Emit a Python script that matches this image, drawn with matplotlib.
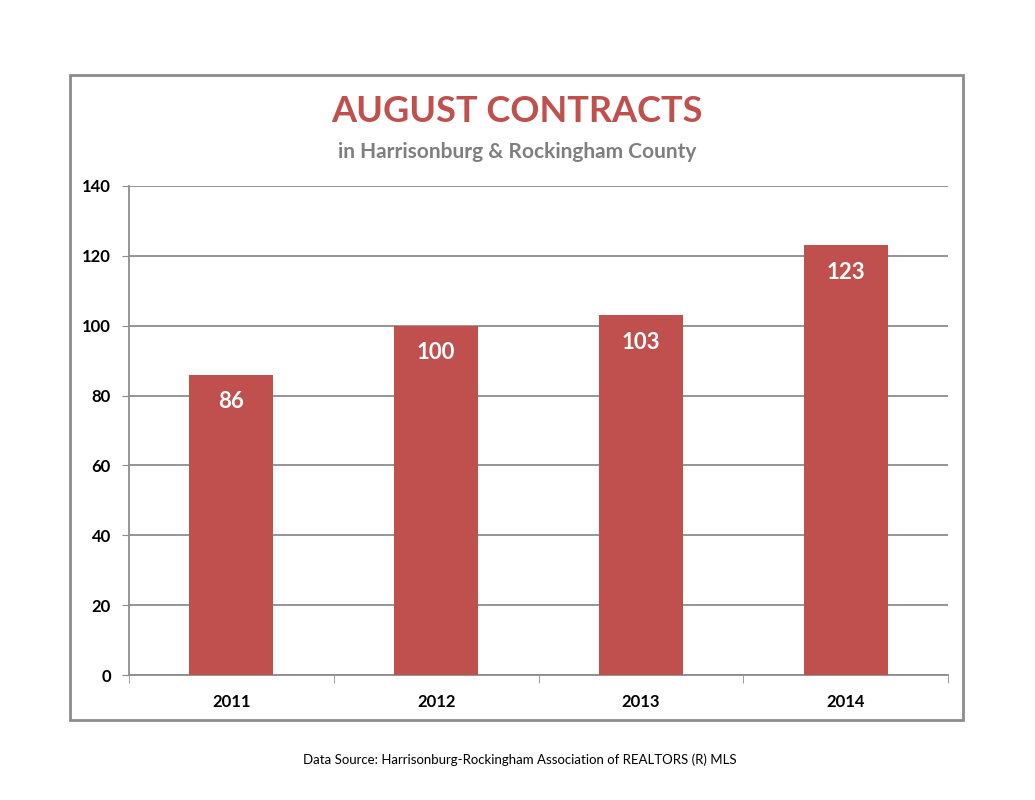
import matplotlib.pyplot as plt
from matplotlib.patches import Rectangle

years = ['2011', '2012', '2013', '2014']
contracts = [86, 100, 103, 123]
y_ticks = [0, 20, 40, 60, 80, 100, 120, 140]

plt.rcParams['font.family'] = ['Lato', 'DejaVu Sans']

W, H = 1035, 800
fig = plt.figure(figsize=(W / 100, H / 100), dpi=100)
ax = fig.add_axes([129 / W, 1 - 675 / H, (948 - 129) / W, (675 - 186) / H])

# outer frame
fig.patches.append(Rectangle((70 / W, 1 - 720 / H), (963 - 70) / W, (720 - 75) / H,
                             transform=fig.transFigure, fill=False,
                             edgecolor='#8c8c8c', linewidth=2))

bar_color = '#c0504d'
x = range(len(years))
bars = ax.bar(x, contracts, width=0.41, color=bar_color, zorder=3)

for xi, v in zip(x, contracts):
    ax.annotate(str(v), (xi, v), xytext=(0, -27), textcoords='offset pixels',
                ha='center', va='center', color='white', fontsize=16,
                fontweight='bold', zorder=4)

ax.set_xlim(-0.5, 3.5)
ax.set_ylim(0, 140)
ax.set_yticks(y_ticks)
ax.set_yticklabels([str(t) for t in y_ticks], fontsize=12, fontweight='bold')
ax.set_xticks(list(x))
ax.set_xticklabels(years, fontsize=12, fontweight='bold')
ax.tick_params(axis='x', length=0, pad=14)
ax.set_xticks([-0.5, 0.5, 1.5, 2.5, 3.5], minor=True)
ax.tick_params(axis='x', which='minor', length=6, color='#8c8c8c', direction='out')
ax.tick_params(axis='y', length=5, color='#8c8c8c', pad=8)

ax.yaxis.grid(True, color='#8c8c8c', linewidth=1.3, zorder=0)
ax.set_axisbelow(True)
for s in ['top', 'right']:
    ax.spines[s].set_visible(False)
for s in ['left', 'bottom']:
    ax.spines[s].set_color('#8c8c8c')
    ax.spines[s].set_linewidth(1.3)

fig.text(517 / W, 1 - 112 / H, 'AUGUST CONTRACTS', ha='center', va='center',
         fontsize=26, fontweight='bold', color=bar_color)
fig.text(517 / W, 1 - 152 / H, 'in Harrisonburg & Rockingham County', ha='center',
         va='center', fontsize=15, fontweight='bold', color='#7f7f7f')
fig.text(520 / W, 1 - 760 / H,
         'Data Source: Harrisonburg-Rockingham Association of REALTORS (R) MLS',
         ha='center', va='center', fontsize=9.5, color='black')

fig.savefig('out.png', dpi=100)
